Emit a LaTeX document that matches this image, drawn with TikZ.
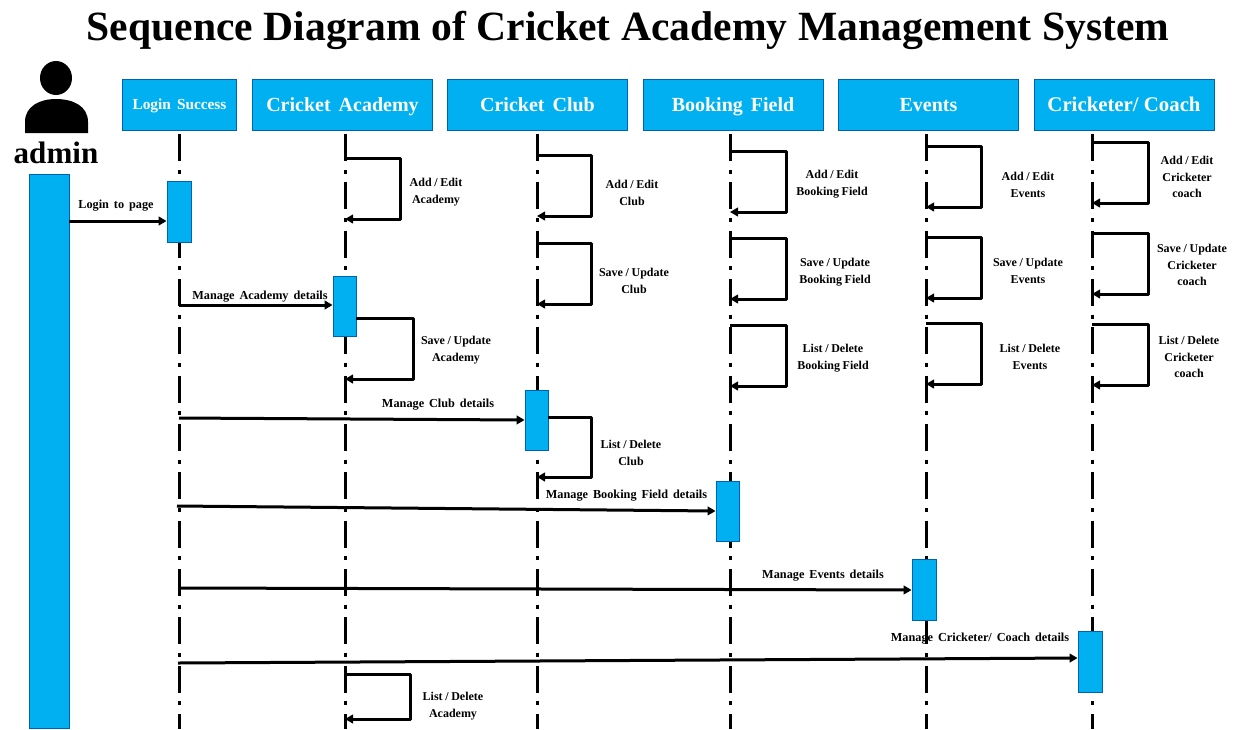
\documentclass[tikz,border=0pt]{standalone}
\usepackage{fontspec}
\setmainfont{Liberation Serif}
\usetikzlibrary{arrows.meta}
\newcommand\wsp{\spaceskip .4em\relax}
\newcommand\nsp{\spaceskip .22em\relax}
\newcommand\tsp{\spaceskip .255em\relax}
\newcommand\selfmsg[5]{%
  \coordinate (#1s) at (#2,#3); \coordinate (#1c) at (#5,#3); \coordinate (#1d) at (#5,#4); \coordinate (#1e) at (#2,#4);
  \draw[msg] (#1s) -- (#1c) -- (#1d) -- (#1e);}
\begin{document}
\begin{tikzpicture}[x=.75pt,y=-.75pt,
  hdr/.style={draw=blue!45!cyan!70!black,line width=.6pt,fill=boxblue,text=white,inner sep=0pt,align=center,minimum height=38.25pt,text height=10pt,text depth=0pt},
  bar/.style={draw=blue!45!cyan!70!black,line width=.6pt,fill=boxblue,inner sep=0pt},
  life/.style={line width=2.25pt,dash pattern=on 20.25pt off 6.5pt on 3pt off 6.5pt},
  msg/.style={line width=2.25pt,line join=round,-{Triangle[length=6pt,width=6.5pt]}},
  lbl/.style={font=\fontsize{9.2}{12.6}\selectfont\bfseries\wsp,align=center,inner sep=0pt,yshift=-1.5pt},
  slbl/.style={font=\fontsize{9}{12.6}\selectfont\bfseries\nsp,align=center,inner sep=0pt,yshift=-1.5pt}]
\definecolor{boxblue}{HTML}{00B0F0}
\useasboundingbox (0,0) rectangle (1235,729);
\node[font=\fontsize{31.2}{36}\selectfont\bfseries\tsp,inner sep=0pt] (title) at (628,30) {Sequence Diagram of Cricket Academy Management System};
% actor
\fill (56,78) ellipse [x radius=16,y radius=17];
\fill (25,133) -- (25,122) .. controls (25,106) and (40,99) .. (56,99) .. controls (73,99) and (88,106) .. (88,122) -- (88,133) -- cycle;
\node[font=\fontsize{23.3}{28}\selectfont\bfseries,inner sep=0pt] (admin) at (56,153) {admin};
% headers
\node[hdr,minimum width=86pt,text height=7.6pt,font=\fontsize{11.5}{13}\selectfont\bfseries\wsp] (h1) at (179.5,104.5) {Login Success};
\node[hdr,minimum width=135.5pt,font=\fontsize{15}{18}\selectfont\bfseries\wsp] (h2) at (342.5,104.5) {Cricket Academy};
\node[hdr,minimum width=135.5pt,font=\fontsize{15}{18}\selectfont\bfseries\wsp] (h3) at (537.5,104.5) {Cricket Club};
\node[hdr,minimum width=135pt,font=\fontsize{15}{18}\selectfont\bfseries\wsp] (h4) at (733,104.5) {Booking Field};
\node[hdr,minimum width=135.5pt,font=\fontsize{15}{18}\selectfont\bfseries] (h5) at (928.5,104.5) {Events};
\node[hdr,minimum width=135pt,font=\fontsize{15.6}{18}\selectfont\bfseries] (h6) at (1124,104.5) {Cricketer/ Coach};
% lifelines
\foreach \n/\x in {1/179,2/345,3/537,4/730,5/926,6/1092}{
  \coordinate (t\n) at (\x,134); \coordinate (b\n) at (\x,729);
  \draw[life] (t\n) -- (b\n);}
% activations
\node[bar,minimum width=30pt,minimum height=415.5pt] (a0) at (49,451) {};
\node[bar,minimum width=18pt,minimum height=45.75pt] (a1) at (179,211.5) {};
\node[bar,minimum width=17.25pt,minimum height=45pt] (a2) at (344.5,306) {};
\node[bar,minimum width=17.25pt,minimum height=45pt] (a3) at (536.5,420) {};
\node[bar,minimum width=17.25pt,minimum height=45pt] (a4) at (727.5,511) {};
\node[bar,minimum width=18pt,minimum height=45.75pt] (a5) at (924,589.5) {};
\node[bar,minimum width=18pt,minimum height=45.75pt] (a6) at (1090,661.5) {};
% calls
\draw[msg] (a0.east |- 0,221) -- (a1.west |- 0,221);
\draw[msg] (b1 |- 0,305) -- (a2.west |- 0,305);
\draw[msg] (b1 |- 0,418) -- (a3.west |- 0,420);
\draw[msg] (177,506) coordinate (c4) -- (a4.west |- 0,511);
\draw[msg] (b1 |- 0,588) -- (a5.west |- 0,590);
\draw[msg] (178,663) coordinate (c6) -- (a6.west |- 0,658);
% self messages
\selfmsg{sa}{345}{158}{219}{400}
\draw[msg] (a2.east |- 0,318) -- (413,318) -- (413,379) -- (b2 |- 0,379);
\selfmsg{sc}{345}{674}{719}{410}
\selfmsg{ca}{537}{155}{216}{591}
\selfmsg{cb}{537}{243}{304}{591}
\draw[msg] (a3.east |- 0,417) -- (591,417) -- (591,477) -- (b3 |- 0,477);
\selfmsg{ba}{730}{151}{212}{786}
\selfmsg{bb}{730}{238}{299}{786}
\selfmsg{bc}{730}{325}{386}{786}
\selfmsg{ea}{926}{146}{207}{981}
\selfmsg{eb}{926}{237}{298}{981}
\selfmsg{ec}{926}{323}{384}{981}
\selfmsg{fa}{1092}{142}{203}{1148}
\selfmsg{fb}{1092}{233}{294}{1148}
\selfmsg{fc}{1092}{324}{385}{1148}
% labels
\node[lbl] (l1) at (116,204) {Login to page};
\node[lbl] (l2) at (260,295) {Manage Academy details};
\node[lbl] (l3) at (438,403) {Manage Club details};
\node[lbl] (l4) at (626.5,494) {Manage Booking Field details};
\node[lbl] (l5) at (823,574) {Manage Events details};
\node[lbl] (l6) at (980,637) {Manage Cricketer/ Coach details};
\node[slbl] (l7) at (436,190) {Add / Edit\\Academy};
\node[slbl] (l8) at (456,348) {Save / Update\\Academy};
\node[slbl] (l9) at (453,704) {List / Delete\\Academy};
\node[slbl] (l10) at (632,191) {Add / Edit\\Club};
\node[slbl] (l11) at (634,279) {Save / Update\\Club};
\node[slbl] (l12) at (631,451) {List / Delete\\Club};
\node[slbl] (l13) at (832,182) {Add / Edit\\Booking Field};
\node[slbl] (l14) at (835,270) {Save / Update\\Booking Field};
\node[slbl] (l15) at (833,356) {List / Delete\\Booking Field};
\node[slbl] (l16) at (1028,183) {Add / Edit\\Events};
\node[slbl] (l17) at (1028,269) {Save / Update\\Events};
\node[slbl] (l18) at (1030,355) {List / Delete\\Events};
\node[slbl] (l19) at (1187,175) {Add / Edit\\Cricketer\\coach};
\node[slbl] (l20) at (1192,263) {Save / Update\\Cricketer\\coach};
\node[slbl] (l21) at (1189,355) {List / Delete\\Cricketer\\coach};
\end{tikzpicture}
\end{document}
